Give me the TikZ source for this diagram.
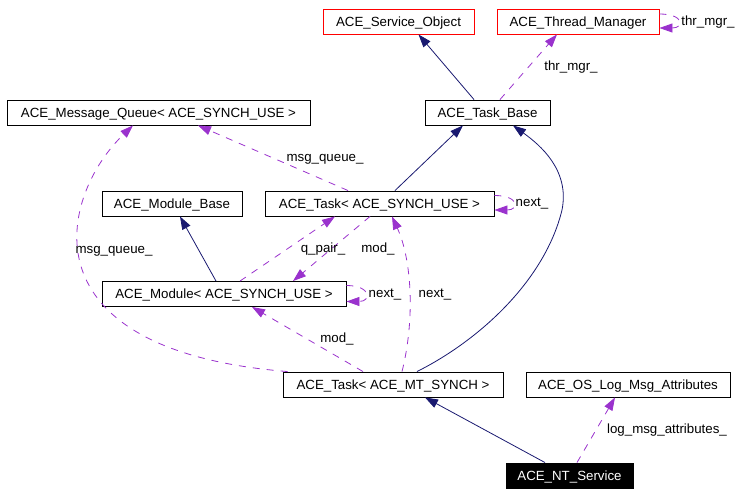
\documentclass[tikz,border=0pt]{standalone}
\usepackage{fontspec}
\setmainfont{Liberation Sans}
\usetikzlibrary{arrows.meta}
\definecolor{inhblue}{HTML}{191970}
\definecolor{usepurple}{HTML}{9A32CD}

\begin{document}
\begin{tikzpicture}[x=1pt, y=-1pt,
    every node/.style={font=\fontsize{13.3}{16}\selectfont, text height=9.5pt, text depth=0pt},
    cls/.style={draw, line width=0.9pt, minimum height=25pt, inner xsep=0pt, inner ysep=0pt},
    redcls/.style={cls, draw=red},
    lbl/.style={inner sep=0pt},
    inh/.style={draw=inhblue, line width=0.8pt, -{Triangle[length=13pt, width=9pt]}},
    uses/.style={draw=usepurple, line width=0.8pt, dash pattern=on 7pt off 7pt, -{Triangle[length=13pt, width=9pt]}}]
        \useasboundingbox (0,0) rectangle (756,495);

        % 绘制类节点
        \node[redcls, minimum width=151pt] (so) at (398.5,21.5) {ACE\_Service\_Object};
        \node[redcls, minimum width=162pt] (tm) at (578,21.5) {ACE\_Thread\_Manager};
        \node[cls, minimum width=303pt] (mq) at (158.5,112.5) {ACE\_Message\_Queue< ACE\_SYNCH\_USE >};
        \node[cls, minimum width=125pt] (tb) at (487.5,112.5) {ACE\_Task\_Base};
        \node[cls, minimum width=140pt] (mb) at (172,203.5) {ACE\_Module\_Base};
        \node[cls, minimum width=229pt] (ts) at (379.5,203.5) {ACE\_Task< ACE\_SYNCH\_USE >};
        \node[cls, minimum width=244pt] (md) at (224,294) {ACE\_Module< ACE\_SYNCH\_USE >};
        \node[cls, minimum width=220pt] (mt) at (393,384.5) {ACE\_Task< ACE\_MT\_SYNCH >};
        \node[cls, minimum width=204pt] (lg) at (628,384.5) {ACE\_OS\_Log\_Msg\_Attributes};
        \node[cls, minimum width=127pt, fill=black, text=white] (nt) at (569.5,475.5) {ACE\_NT\_Service};

        % 绘制继承关系(实线)
        \draw[inh] ([xshift=-13.5pt]tb.north) -- ([xshift=20pt]so.south);
        \draw[inh] ([xshift=15.5pt]ts.north) -- ([xshift=-24.5pt]tb.south);
        \draw[inh] ([xshift=-8pt]md.north) -- ([xshift=8pt]mb.south);
        \draw[inh] ([xshift=24pt]mt.north) .. controls (480,340) and (545,280) .. (562,210)
            .. controls (570,170) and (540,145) .. ([xshift=25.5pt]tb.south);
        \draw[inh] ([xshift=-24.5pt]nt.north) -- ([xshift=32pt]mt.south);

        % 绘制成员关系(虚线)
        \draw[uses] ([xshift=12.5pt]tb.north) -- ([xshift=-21pt]tm.south);
        \draw[uses] ([yshift=7.5pt]tm.east) .. controls +(25,0) and +(25,0) .. ([yshift=-6.5pt]tm.east);
        \draw[uses] ([xshift=-31.5pt]ts.north) -- ([xshift=39.5pt]mq.south);
        \draw[uses] ([yshift=8pt]ts.east) .. controls +(25,0) and +(25,0) .. ([yshift=-6.5pt]ts.east);
        \draw[uses] ([xshift=16pt]md.north) -- ([xshift=-44.5pt]ts.south);
        \draw[uses] ([xshift=-9.5pt]ts.south) -- ([xshift=69pt]md.north);
        \draw[uses] ([yshift=8.5pt]md.east) .. controls +(25,0) and +(25,0) .. ([yshift=-7.5pt]md.east);
        \draw[uses] ([xshift=5pt]mt.north west) .. controls (20,350) and (60,195) .. ([xshift=-25.5pt]mq.south);
        \draw[uses] ([xshift=-30pt]mt.north) -- ([xshift=28pt]md.south);
        \draw[uses] ([xshift=9pt]mt.north) .. controls (415,320) and (412,260) .. ([xshift=12.5pt]ts.south);
        \draw[uses] ([xshift=7.5pt]nt.north) -- ([xshift=-13pt]lg.south);

        % 绘制标签
        \node[lbl] (l-thr1) at (571,66) {thr\_mgr\_};
        \node[lbl] (l-thr2) at (708,21) {thr\_mgr\_};
        \node[lbl] (l-mq1) at (325,157) {msg\_queue\_};
        \node[lbl] (l-next1) at (532,201.5) {next\_};
        \node[lbl] (l-qpair) at (323,247.5) {q\_pair\_};
        \node[lbl] (l-mod1) at (378,247.5) {mod\_};
        \node[lbl] (l-next2) at (385,292.5) {next\_};
        \node[lbl] (l-next3) at (435,292.5) {next\_};
        \node[lbl] (l-mq2) at (114,248.5) {msg\_queue\_};
        \node[lbl] (l-mod2) at (337,337.5) {mod\_};
        \node[lbl] (l-log) at (667,428.5) {log\_msg\_attributes\_};
    \end{tikzpicture}
\end{document}
